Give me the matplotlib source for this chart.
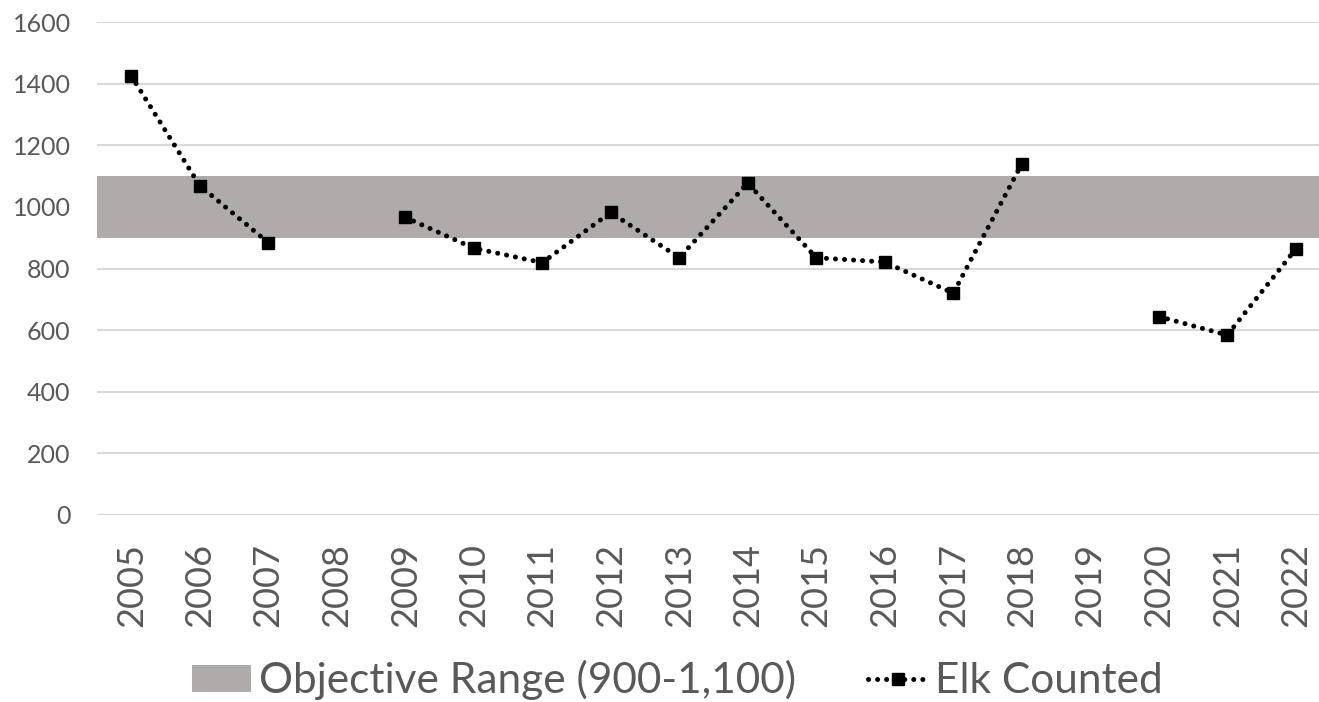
import numpy as np
import matplotlib
matplotlib.use("Agg")
import matplotlib.pyplot as plt
from matplotlib.patches import Patch
from matplotlib.lines import Line2D

# data
years = ["2005", "2006", "2007", "2008", "2009", "2010", "2011", "2012", "2013",
         "2014", "2015", "2016", "2017", "2018", "2019", "2020", "2021", "2022"]
elk = [1425, 1069, 884, np.nan, 966, 866, 819, 982, 835,
       1077, 835, 821, 720, 1139, np.nan, 644, 584, 863]
range_low = 900
range_high = 1100
y_ticks = [0, 200, 400, 600, 800, 1000, 1200, 1400, 1600]

plt.rcParams['font.family'] = ['Lato', 'DejaVu Sans']
txt = "#595959"

fig = plt.figure(figsize=(13.19, 7.02), dpi=100)
ax = fig.add_axes([97/1319, 1-515/702, (1330-97)/1319, (515-22)/702])

x = np.arange(len(years))
ax.axhspan(range_low, range_high, color="#afabab", zorder=1, lw=0)
ax.plot(x, elk, color="black", lw=3.6, linestyle=(0, (0.01, 1.8)),
        dash_capstyle="round", marker="s", markersize=9, zorder=3)

ax.set_xlim(-0.5, len(years)-0.5)
ax.set_ylim(0, 1600)
ax.set_yticks(y_ticks)
ax.set_xticks(x)
ax.set_xticklabels(years, rotation=90, fontsize=26, color=txt)
ax.tick_params(axis="y", length=0, pad=19, labelsize=18, labelcolor=txt)
ax.tick_params(axis="x", length=0, pad=20)
ax.grid(axis="y", color="#d9d9d9", lw=1.5, zorder=0)
ax.set_axisbelow(True)
for s in ax.spines.values():
    s.set_visible(False)

handles = [Patch(facecolor="#afabab", edgecolor="none"),
           Line2D([], [], color="black", lw=3.6, linestyle=(0, (0.01, 1.8)),
                  dash_capstyle="round", marker="s", markersize=9)]
fig.legend(handles, ["Objective Range (900-1,100)", "Elk Counted"],
           loc="center", bbox_to_anchor=(0.5137, 0.031), ncol=2, frameon=False,
           fontsize=30.5, labelcolor=txt, handlelength=1.39, handleheight=0.59,
           handletextpad=0.19, columnspacing=1.7)

fig.savefig("out.png", dpi=100)
